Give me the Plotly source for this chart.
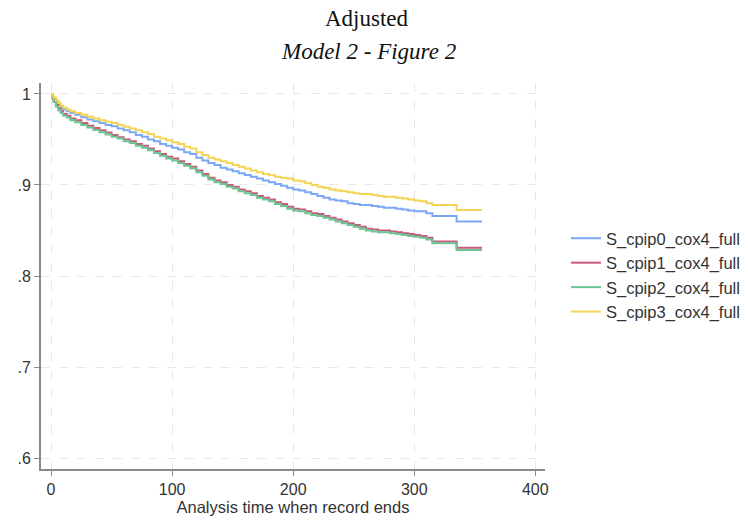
import plotly.graph_objects as go

times = [0, 1, 2, 4, 6, 8, 10, 13, 16, 20,
         25, 30, 35, 40, 45, 50, 55, 60, 65, 70, 75, 80, 85, 90, 95, 100,
         105, 110, 115, 120, 125, 130, 135, 140, 145, 150, 155, 160, 165, 170, 175, 180,
         185, 190, 195, 200, 205, 210, 215, 220, 225, 230, 235, 240, 245, 250, 255, 260,
         265, 270, 275, 280, 285, 290, 295, 300, 305, 310, 315, 320, 325, 330, 335, 356]

s_cpip0 = [1.0, 0.997, 0.995, 0.991, 0.988, 0.985, 0.983, 0.981, 0.979, 0.977,
           0.9745, 0.972, 0.970, 0.968, 0.966, 0.9645, 0.962, 0.960, 0.958, 0.955, 0.953, 0.950,
           0.948, 0.945, 0.943, 0.941,
           0.939, 0.936, 0.934, 0.930, 0.927, 0.924, 0.922, 0.919, 0.917, 0.915, 0.913, 0.911,
           0.909, 0.907, 0.905, 0.903,
           0.901, 0.899, 0.897, 0.895, 0.894, 0.892, 0.890, 0.888, 0.886, 0.884, 0.883, 0.882,
           0.880, 0.879, 0.878, 0.878,
           0.877, 0.876, 0.875, 0.875, 0.874, 0.873, 0.872, 0.871, 0.871, 0.869, 0.866, 0.866,
           0.866, 0.866, 0.860, 0.860]
s_cpip1 = [1.0, 0.996, 0.993, 0.988, 0.984, 0.981, 0.978, 0.976, 0.973, 0.971,
           0.968, 0.965, 0.9625, 0.960, 0.9575, 0.955, 0.9525, 0.950, 0.948, 0.945, 0.943, 0.940,
           0.937, 0.934, 0.931, 0.929,
           0.926, 0.923, 0.920, 0.916, 0.912, 0.908, 0.905, 0.903, 0.900, 0.898, 0.895, 0.893,
           0.891, 0.888, 0.886, 0.884,
           0.881, 0.879, 0.876, 0.874, 0.873, 0.871, 0.869, 0.868, 0.866, 0.864, 0.862, 0.860,
           0.858, 0.856, 0.854, 0.852,
           0.851, 0.850, 0.850, 0.849, 0.848, 0.847, 0.846, 0.845, 0.844, 0.842, 0.838, 0.838,
           0.838, 0.838, 0.831, 0.831]
s_cpip2 = [1.0, 0.995, 0.991, 0.986, 0.982, 0.979, 0.976, 0.974, 0.971, 0.969,
           0.966, 0.963, 0.9605, 0.958, 0.9555, 0.953, 0.951, 0.948, 0.946, 0.943, 0.941, 0.938,
           0.935, 0.932, 0.929, 0.927,
           0.924, 0.921, 0.918, 0.914, 0.910, 0.906, 0.903, 0.901, 0.898, 0.896, 0.893, 0.891,
           0.889, 0.886, 0.884, 0.882,
           0.879, 0.877, 0.874, 0.872, 0.871, 0.869, 0.867, 0.866, 0.864, 0.862, 0.860, 0.858,
           0.856, 0.854, 0.852, 0.850,
           0.849, 0.848, 0.848, 0.847, 0.846, 0.845, 0.844, 0.843, 0.842, 0.840, 0.836, 0.836,
           0.836, 0.836, 0.8286, 0.8286]
s_cpip3 = [1.0, 0.998, 0.996, 0.993, 0.990, 0.987, 0.985, 0.983, 0.981, 0.979,
           0.977, 0.975, 0.973, 0.971, 0.9695, 0.968, 0.966, 0.964, 0.962, 0.960, 0.958, 0.956,
           0.953, 0.951, 0.949, 0.947,
           0.945, 0.942, 0.940, 0.936, 0.933, 0.930, 0.928, 0.926, 0.924, 0.922, 0.920, 0.918,
           0.916, 0.914, 0.912, 0.911,
           0.909, 0.908, 0.907, 0.905, 0.904, 0.902, 0.900, 0.898, 0.897, 0.895, 0.894, 0.893,
           0.892, 0.891, 0.890, 0.890,
           0.889, 0.888, 0.887, 0.887, 0.886, 0.885, 0.884, 0.883, 0.882, 0.880, 0.878, 0.878,
           0.878, 0.878, 0.8725, 0.8725]

names = ["S_cpip0_cox4_full", "S_cpip1_cox4_full", "S_cpip2_cox4_full", "S_cpip3_cox4_full"]
series = [s_cpip0, s_cpip1, s_cpip2, s_cpip3]
colors = ["#7aa8f5", "#c85a7a", "#6cc592", "#f3d455"]

x_ticks = [0, 100, 200, 300, 400]
y_ticks = [0.6, 0.7, 0.8, 0.9, 1.0]
y_tick_labels = [".6", ".7", ".8", ".9", "1"]

fig = go.Figure()
for name, ys, c in zip(names, series, colors):
    fig.add_trace(go.Scatter(x=times, y=ys, mode="lines", name=name,
                             line=dict(color=c, width=2, shape="hv")))

PL, PR, PT, PB = 41, 545, 83, 469
pw, ph = PR - PL, PB - PT

fig.update_layout(
    width=748, height=520,
    paper_bgcolor="white", plot_bgcolor="white",
    margin=dict(l=PL, r=748 - PR, t=PT, b=520 - PB, autoexpand=False),
    font=dict(family="Liberation Sans, Arial, sans-serif", size=16, color="#333333"),
    showlegend=True,
    legend=dict(x=(566 - PL) / pw, y=(PB - 275) / ph, xanchor="left", yanchor="middle",
                font=dict(size=16.5, color="#333333"),
                bgcolor="rgba(0,0,0,0)"),
    annotations=[
        dict(text="Adjusted", x=(367 - PL) / pw, xref="paper", xanchor="center", yref="paper",
             y=(PB - 18) / ph, yanchor="middle", showarrow=False,
             font=dict(family="Liberation Serif, Times New Roman, serif", size=23, color="#111111")),
        dict(text="<i>Model 2 - Figure 2</i>", x=(368 - PL) / pw, xref="paper", xanchor="center",
             yref="paper", y=(PB - 52) / ph, yanchor="middle", showarrow=False,
             font=dict(family="Liberation Serif, Times New Roman, serif", size=23, color="#111111")),
    ],
)

fig.update_xaxes(
    range=[-8.3, 408], tickvals=x_ticks, ticktext=[str(v) for v in x_ticks],
    showline=True, linecolor="#8a8a8a", linewidth=2,
    ticks="outside", ticklen=5, tickcolor="#8a8a8a", tickwidth=1,
    showgrid=True, gridcolor="#e8e8e8", griddash="dash", gridwidth=1,
    zeroline=False, automargin=False,
    title=dict(text="Analysis time when record ends", font=dict(size=16.5, color="#333333"), standoff=0),
)
fig.update_yaxes(
    range=[0.588, 1.012], tickvals=y_ticks, ticktext=y_tick_labels,
    showline=True, linecolor="#8a8a8a", linewidth=2,
    ticks="outside", ticklen=5, tickcolor="#8a8a8a", tickwidth=1,
    showgrid=True, gridcolor="#e8e8e8", griddash="dash", gridwidth=1,
    zeroline=False, automargin=False,
)

fig.write_html("out.html", config={"displayModeBar": False},
               post_script="document.body.style.margin='0';")
